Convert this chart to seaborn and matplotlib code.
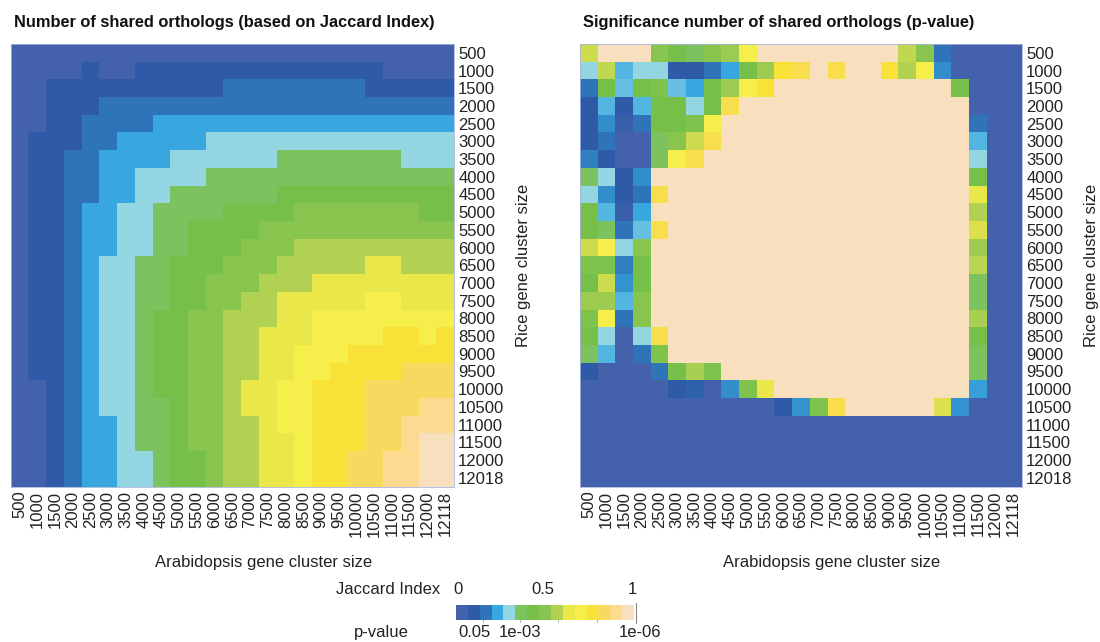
import numpy as np
import pandas as pd
import matplotlib
matplotlib.use("Agg")
import matplotlib.pyplot as plt
import seaborn as sns
from matplotlib.colors import LinearSegmentedColormap, ListedColormap, Normalize
import matplotlib.colorbar as mcolorbar

# Cluster sizes on both axes
arabidopsis_sizes = [str(v) for v in range(500, 12001, 500)] + ["12118"]
rice_sizes = [str(v) for v in range(500, 12001, 500)] + ["12018"]

# 15-step palette shared by both panels (index 0 = lowest, 14 = highest)
palette = ["#4461AB", "#2E5AA8", "#2F74B8", "#38A9E0", "#93D6E3",
           "#7CC35E", "#76C04A", "#88C54E", "#B0D152", "#E9E74A",
           "#F6EE4A", "#F8E237", "#F8D95E", "#FCDA8E", "#F8E0BE"]

# Jaccard index of shared orthologs, on the 0-14 colour scale
# rows: rice cluster size (500 .. 12018), cols: arabidopsis cluster size (500 .. 12118)
jaccard_level = [
    [0,0,0,0,0,0,0,0,0,0,0,0,0,0,0,0,0,0,0,0,0,0,0,0,0],
    [0,0,0,0,1,0,0,1,1,1,1,1,1,1,1,1,1,1,1,1,1,0,0,0,0],
    [0,0,1,1,1,1,1,1,1,1,1,1,2,2,2,2,2,2,2,2,1,1,1,1,1],
    [0,0,1,1,1,2,2,2,2,2,2,2,2,2,2,2,2,2,2,2,2,2,2,2,2],
    [0,0,1,1,2,2,2,2,3,3,3,3,3,3,3,3,3,3,3,3,3,3,3,3,3],
    [0,1,1,1,2,2,3,3,3,3,3,4,4,4,4,4,4,4,4,4,4,4,4,4,4],
    [0,1,1,2,2,3,3,3,3,4,4,4,4,4,4,5,5,5,5,5,5,5,4,4,4],
    [0,1,1,2,2,3,3,4,4,4,4,5,5,5,5,5,5,5,5,5,5,5,5,5,5],
    [0,1,1,2,2,3,3,4,4,5,5,5,5,5,5,6,6,6,6,6,6,6,6,6,6],
    [0,1,1,2,3,3,4,4,5,5,5,5,6,6,6,6,7,7,7,7,7,7,7,6,6],
    [0,1,1,2,3,3,4,4,5,5,6,6,6,6,7,7,7,7,7,7,7,7,7,7,7],
    [0,1,1,2,3,3,4,4,5,5,6,6,6,7,7,7,8,8,8,8,8,8,8,8,8],
    [0,1,1,2,3,4,4,5,5,6,6,6,7,7,7,8,8,8,8,8,9,9,8,8,8],
    [0,1,1,2,3,4,4,5,5,6,6,7,7,7,8,8,8,9,9,9,9,9,9,9,9],
    [0,1,1,2,3,4,4,5,5,6,6,7,7,8,8,9,9,9,9,9,10,10,9,9,9],
    [0,1,1,2,3,4,4,5,6,6,7,7,8,8,8,9,9,10,10,10,10,10,10,10,10],
    [0,1,1,2,3,4,4,5,6,6,7,7,8,8,9,9,9,10,10,10,10,11,11,10,11],
    [0,1,1,2,3,4,4,5,6,6,7,7,8,8,9,9,10,10,10,11,11,11,11,11,11],
    [0,1,1,2,3,4,4,5,6,6,7,7,8,8,9,9,10,10,11,11,11,11,12,12,12],
    [0,0,1,2,3,4,4,5,6,6,7,7,8,9,9,10,10,11,11,11,12,12,12,12,12],
    [0,0,1,2,3,4,4,5,5,6,7,7,8,9,9,10,10,11,11,11,12,12,12,13,13],
    [0,0,1,2,3,3,4,5,5,6,7,7,8,8,9,10,10,11,11,11,12,12,13,13,13],
    [0,0,1,2,3,3,4,5,5,6,7,7,8,8,9,9,10,11,11,11,12,12,13,14,14],
    [0,0,1,2,3,3,4,4,5,6,6,7,8,8,9,9,10,11,11,12,12,13,13,14,14],
    [0,0,1,2,3,3,4,4,5,6,6,7,8,8,9,9,10,11,11,12,12,13,13,14,14],
]

# Significance (p-value) of the shared-ortholog counts, on the same 0-14 scale
pvalue_level = [
    [8.5,14,14,14,7,6,5,7,7.5,10,14,14,14,14,14,14,14,14,8.3,7,2,0,0,0,0],
    [4,8.3,3.3,4,4,1,1,2,3,6,7.5,11,11.5,14,11.5,14,14,11,8,10,2.5,0,0,0,0],
    [2,6,3.5,6,6.5,3.5,3,6,7.5,10,11,14,14,14,14,14,14,14,14,14,14,6,0,0,0],
    [1,3.3,1,3.3,6,6,4,6,11.5,14,14,14,14,14,14,14,14,14,14,14,14,14,0,0,0],
    [1,2.5,0.5,2,6,6,6.5,10,14,14,14,14,14,14,14,14,14,14,14,14,14,14,2,0,0],
    [1,2,0,0,5,7,8.5,11.5,14,14,14,14,14,14,14,14,14,14,14,14,14,14,3.3,0,0],
    [2.2,1,0,0,5,10,11.5,14,14,14,14,14,14,14,14,14,14,14,14,14,14,14,4,0,0],
    [5,4,1,2.5,14,14,14,14,14,14,14,14,14,14,14,14,14,14,14,14,14,14,6,0,0],
    [4,2.5,1,2,11.5,14,14,14,14,14,14,14,14,14,14,14,14,14,14,14,14,14,9,0,0],
    [6,3.3,0.5,3,14,14,14,14,14,14,14,14,14,14,14,14,14,14,14,14,14,14,8,0,0],
    [6,5,2,3.5,11.5,14,14,14,14,14,14,14,14,14,14,14,14,14,14,14,14,14,8.7,0,0],
    [8.5,10,4,7,14,14,14,14,14,14,14,14,14,14,14,14,14,14,14,14,14,14,7.5,0,0],
    [6.5,6.5,2.2,6,14,14,14,14,14,14,14,14,14,14,14,14,14,14,14,14,14,14,8.2,0,0],
    [6,8.5,2.6,6,14,14,14,14,14,14,14,14,14,14,14,14,14,14,14,14,14,14,5,0,0],
    [7.5,7.5,3.3,7,14,14,14,14,14,14,14,14,14,14,14,14,14,14,14,14,14,14,5,0,0],
    [6.5,10,2,7,14,14,14,14,14,14,14,14,14,14,14,14,14,14,14,14,14,14,7.8,0,0],
    [6,4,0,4,11.5,14,14,14,14,14,14,14,14,14,14,14,14,14,14,14,14,14,6,0,0],
    [5,3.3,0,2,6.5,14,14,14,14,14,14,14,14,14,14,14,14,14,14,14,14,14,5,0,0],
    [1,0,0,0,2,6,7.8,6.5,14,14,14,14,14,14,14,14,14,14,14,14,14,14,5,0,0],
    [0,0,0,0,0,1,1.3,0,2.5,6.5,9,14,14,14,14,14,14,14,14,14,14,14,2.8,0,0],
    [0,0,0,0,0,0,0,0,0,0,0,1,2.6,6.5,11.5,14,14,14,14,14,8.7,2.6,0,0,0],
    [0]*25,
    [0]*25,
    [0]*25,
    [0]*25,
]

# Colour-bar annotations (positions in colour-bar units, 15 = full width)
jaccard_labels = [("0", 0.17), ("0.5", 7.33), ("1", 14.83)]
pvalue_labels = [("0.05", 1.6), ("1e-03", 5.43), ("1e-06", 15.5)]
pvalue_tick_marks = [2.27, 5.39, 8.6, 11.88]

sns.set_theme(style="white")
plt.rcParams["font.family"] = ["Liberation Sans", "DejaVu Sans"]

cmap = LinearSegmentedColormap.from_list("orthologs", palette, N=256)

fig = plt.figure(figsize=(11, 6.42), dpi=100)
W, H = 1100.0, 642.0
TEXT = "#222222"


def add_px_axes(x0, y0, x1, y1):
    return fig.add_axes([x0 / W, 1 - y1 / H, (x1 - x0) / W, (y1 - y0) / H])


panels = [
    (jaccard_level, "Number of shared orthologs (based on Jaccard Index)", (10.7, 44, 454, 486.5)),
    (pvalue_level, "Significance number of shared orthologs (p-value)", (580, 44, 1022, 486.5)),
]

for values, title, box in panels:
    ax = add_px_axes(*box)
    df = pd.DataFrame(values, index=rice_sizes, columns=arabidopsis_sizes)
    sns.heatmap(df, ax=ax, cmap=cmap, vmin=0, vmax=14, cbar=False,
                xticklabels=True, yticklabels=True, linewidths=0)
    ax.yaxis.tick_right()
    ax.tick_params(axis="both", length=0, labelsize=12, colors=TEXT)
    ax.tick_params(axis="y", pad=3, labelrotation=0)
    ax.tick_params(axis="x", pad=3, labelrotation=90)
    for lab in ax.get_yticklabels():
        lab.set_horizontalalignment("left")
    for s in ax.spines.values():
        s.set_visible(True)
        s.set_color("#a8b4da")
        s.set_linewidth(0.6)
    ax.set_xlabel("Arabidopsis gene cluster size", fontsize=12, color=TEXT)
    ax.xaxis.set_label_coords(0.57, -0.154)
    ax.set_ylabel("")
    # rotated axis title on the right of the tick labels
    ax.text(1.157, 0.5, "Rice gene cluster size", transform=ax.transAxes, rotation=90,
            ha="center", va="center", fontsize=12, color=TEXT)
    fig.text((box[0] + 3) / W, 1 - 22 / H, title, fontsize=11.8, fontweight="bold",
             ha="left", va="center", color="#111111")

# Discrete colour bar with two scales
cb_ax = add_px_axes(456, 605, 634, 619.5)
cb = mcolorbar.ColorbarBase(cb_ax, cmap=ListedColormap(palette), norm=Normalize(0, 15),
                            orientation="horizontal")
cb.outline.set_visible(False)
cb_ax.set_xticks([])
cb_ax.set_xlim(0, 15)
xt = cb_ax.get_xaxis_transform()
for pos in pvalue_tick_marks:
    cb_ax.plot([pos, pos], [0, -0.15], transform=xt, color="#aaaaaa", lw=0.7, clip_on=False)
cb_ax.plot([15.16, 15.16], [-0.25, 1.15], transform=xt, color="#888888", lw=0.8, clip_on=False)
for label, pos in jaccard_labels:
    cb_ax.text(pos, 1.0 + 15 / 14.5, label, transform=xt, ha="center", va="center",
               fontsize=12, color=TEXT)
for label, pos in pvalue_labels:
    cb_ax.text(pos, -13 / 14.5, label, transform=xt, ha="center", va="center",
               fontsize=12, color=TEXT)
fig.text(388.5 / W, 1 - 590 / H, "Jaccard Index", fontsize=12, ha="center", va="center",
         color=TEXT)
fig.text(381 / W, 1 - 632 / H, "p-value", fontsize=12, ha="center", va="center",
         color=TEXT)

fig.savefig("out.png", dpi=100)
